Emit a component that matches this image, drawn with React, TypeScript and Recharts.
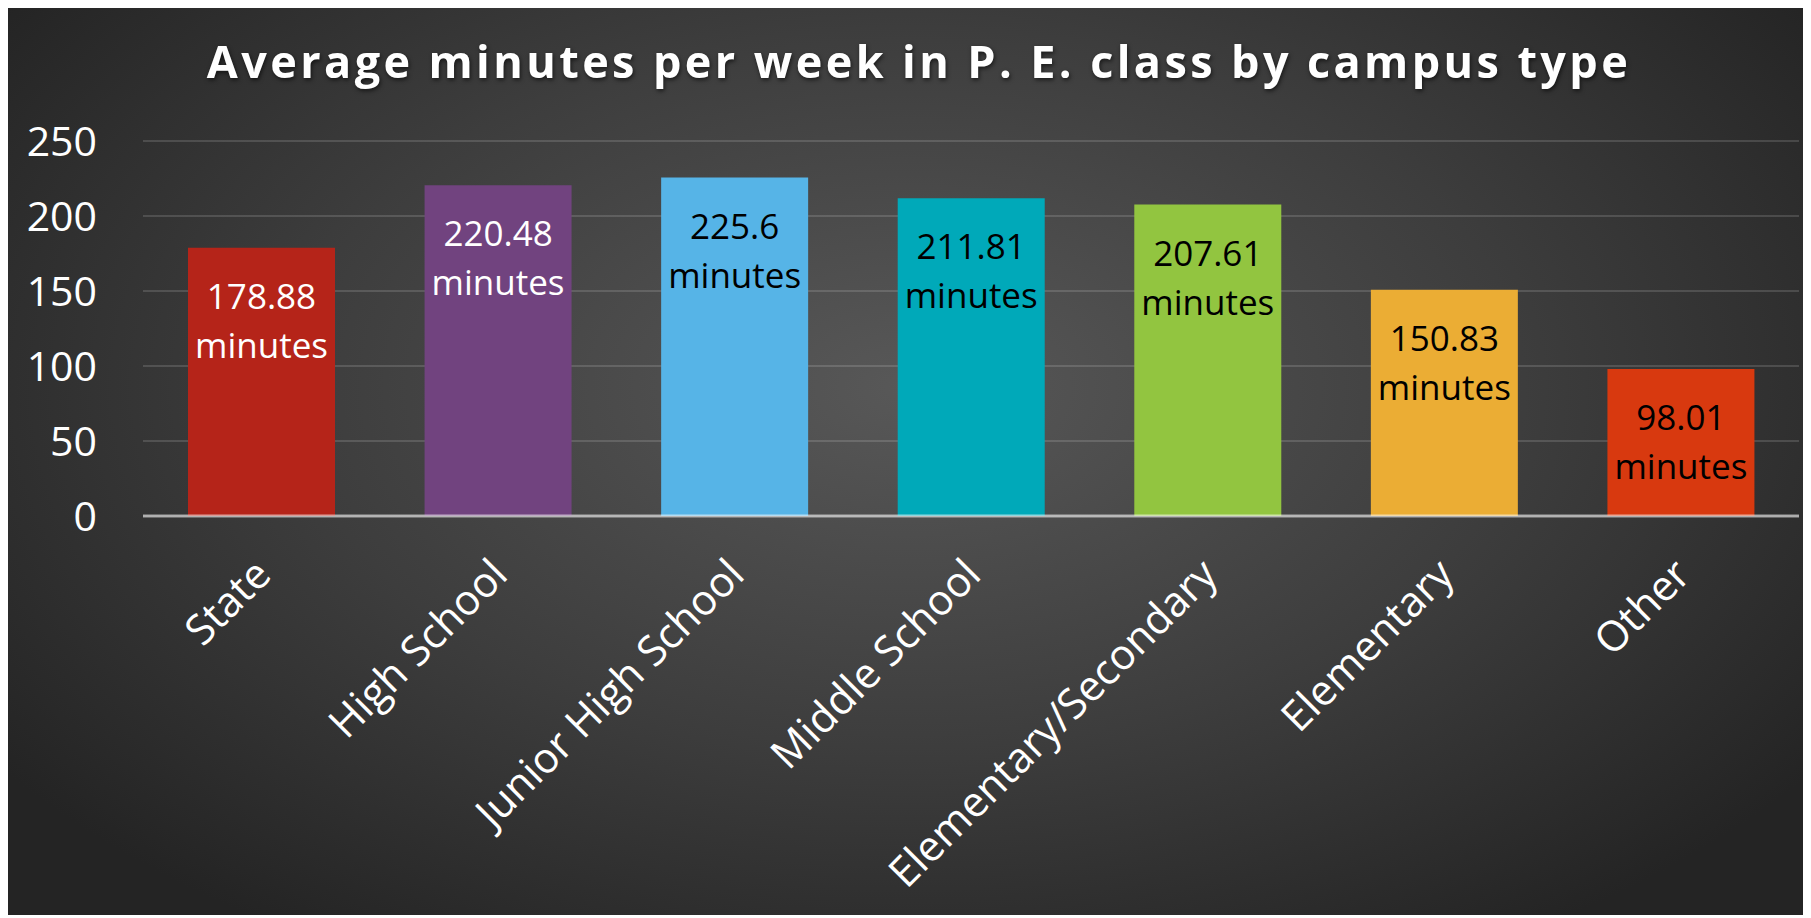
import { Bar, BarChart, CartesianGrid, Cell, LabelList, XAxis, YAxis } from "recharts";

const categories = [
  "State",
  "High School",
  "Junior High School",
  "Middle School",
  "Elementary/Secondary",
  "Elementary",
  "Other",
];
const minutes = [178.88, 220.48, 225.6, 211.81, 207.61, 150.83, 98.01];
const barColors = ["#B52419", "#71437F", "#56B4E7", "#00A9B9", "#92C540", "#EBAD34", "#D8390F"];
const labelColors = ["#FFFFFF", "#FFFFFF", "#000000", "#000000", "#000000", "#000000", "#000000"];
const yTicks = [0, 50, 100, 150, 200, 250];

const data = categories.map((campus, i) => ({ campus, minutes: minutes[i] }));

const FONT = "'Open Sans', sans-serif";

function XTick({ x, y, payload }: any) {
  const tx = x + 12;
  const ty = y + 61;
  return (
    <text
      x={tx}
      y={ty}
      transform={`rotate(-45, ${tx}, ${ty})`}
      textAnchor="end"
      fill="#FFFFFF"
      fontSize={42}
      fontFamily={FONT}
    >
      {payload.value}
    </text>
  );
}

function YTick({ x, y, payload }: any) {
  return (
    <text x={x - 46} y={y} dy="0.36em" textAnchor="end" fill="#FFFFFF" fontSize={41} fontFamily={FONT}>
      {payload.value}
    </text>
  );
}

function BarLabel(props: any) {
  const { x, y, width, value, index } = props;
  const i = typeof index === "number" ? index : minutes.indexOf(value);
  const cx = x + width / 2;
  return (
    <text textAnchor="middle" fill={labelColors[i]} fontSize={35} fontFamily={FONT}>
      <tspan x={cx} y={y + 61}>
        {value}
      </tspan>
      <tspan x={cx} y={y + 110}>
        minutes
      </tspan>
    </text>
  );
}

export default function App() {
  return (
    <div
      style={{
        position: "relative",
        top: -3,
        width: 1803,
        height: 910,
        background:
          "radial-gradient(ellipse 62% 72% at 50% 42%, #585858 0%, #3d3d3d 55%, #242424 100%)",
      }}
    >
      <svg width={1803} height={110} style={{ position: "absolute", left: 0, top: 0 }}>
        <text
          x={911}
          y={73}
          textAnchor="middle"
          fill="#FFFFFF"
          fontSize={45}
          fontWeight="bold"
          fontFamily={FONT}
          letterSpacing={3.4}
          style={{ filter: "drop-shadow(1px 2px 2px rgba(0,0,0,0.6))" }}
        >
          Average minutes per week in P. E. class by campus type
        </text>
      </svg>
      <BarChart
        width={1803}
        height={910}
        data={data}
        margin={{ top: 136, right: 12, bottom: 0, left: 0 }}
        barSize={147}
      >
        <CartesianGrid vertical={false} stroke="rgba(255,255,255,0.14)" strokeWidth={2} />
        <XAxis
          dataKey="campus"
          height={399}
          interval={0}
          tickLine={false}
          tickSize={0}
          tickMargin={0}
          axisLine={{ stroke: "rgba(255,255,255,0.55)", strokeWidth: 3 }}
          tick={<XTick />}
        />
        <YAxis
          width={135}
          domain={[0, 250]}
          ticks={yTicks}
          axisLine={false}
          tickLine={false}
          tickSize={0}
          tickMargin={0}
          tick={<YTick />}
        />
        <Bar dataKey="minutes" isAnimationActive={false}>
          {data.map((d, i) => (
            <Cell key={d.campus} fill={barColors[i]} />
          ))}
          <LabelList dataKey="minutes" content={<BarLabel />} />
        </Bar>
      </BarChart>
    </div>
  );
}
